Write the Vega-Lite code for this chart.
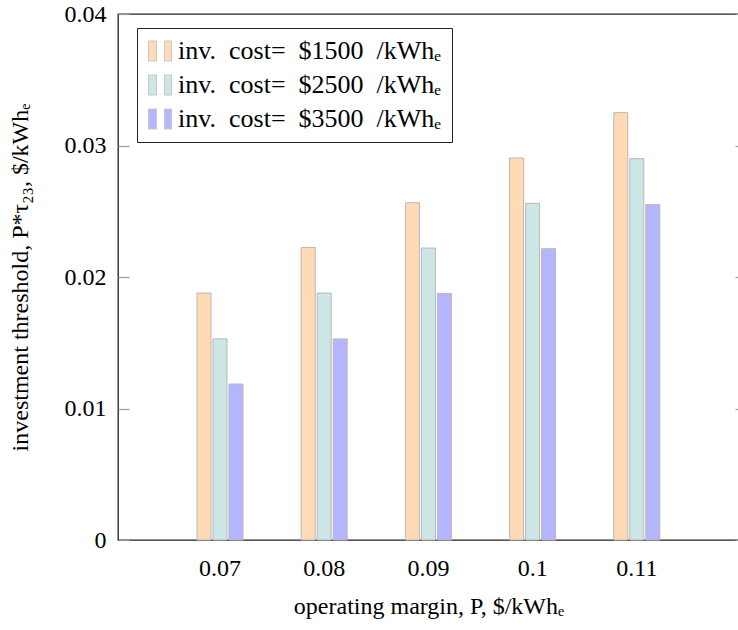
{
  "$schema": "https://vega.github.io/schema/vega-lite/v6.json",
  "autosize": "none",
  "width": 621,
  "height": 526,
  "padding": {"left": 118, "top": 14, "right": 0, "bottom": 90},
  "background": "white",
  "config": {
    "font": "Liberation Serif",
    "view": {"stroke": "#222", "strokeWidth": 1.3}
  },
  "data": {
    "values": [
      {"margin": "0.07", "cost": "inv.\u2002cost=\u2002$1500\u2002/kWhₑ", "value": 0.01878},
      {"margin": "0.07", "cost": "inv.\u2002cost=\u2002$2500\u2002/kWhₑ", "value": 0.01529},
      {"margin": "0.07", "cost": "inv.\u2002cost=\u2002$3500\u2002/kWhₑ", "value": 0.01186},
      {"margin": "0.08", "cost": "inv.\u2002cost=\u2002$1500\u2002/kWhₑ", "value": 0.02225},
      {"margin": "0.08", "cost": "inv.\u2002cost=\u2002$2500\u2002/kWhₑ", "value": 0.01878},
      {"margin": "0.08", "cost": "inv.\u2002cost=\u2002$3500\u2002/kWhₑ", "value": 0.01529},
      {"margin": "0.09", "cost": "inv.\u2002cost=\u2002$1500\u2002/kWhₑ", "value": 0.02565},
      {"margin": "0.09", "cost": "inv.\u2002cost=\u2002$2500\u2002/kWhₑ", "value": 0.02220},
      {"margin": "0.09", "cost": "inv.\u2002cost=\u2002$3500\u2002/kWhₑ", "value": 0.01875},
      {"margin": "0.1", "cost": "inv.\u2002cost=\u2002$1500\u2002/kWhₑ", "value": 0.02905},
      {"margin": "0.1", "cost": "inv.\u2002cost=\u2002$2500\u2002/kWhₑ", "value": 0.02560},
      {"margin": "0.1", "cost": "inv.\u2002cost=\u2002$3500\u2002/kWhₑ", "value": 0.02215},
      {"margin": "0.11", "cost": "inv.\u2002cost=\u2002$1500\u2002/kWhₑ", "value": 0.03250},
      {"margin": "0.11", "cost": "inv.\u2002cost=\u2002$2500\u2002/kWhₑ", "value": 0.02900},
      {"margin": "0.11", "cost": "inv.\u2002cost=\u2002$3500\u2002/kWhₑ", "value": 0.02550}
    ]
  },
  "encoding": {
    "x": {
      "field": "margin",
      "type": "ordinal",
      "scale": {"paddingInner": 0, "paddingOuter": 0.48},
      "axis": {
        "title": "operating margin, P, $/kWhₑ",
        "titleFont": "Liberation Serif",
        "titleFontSize": 24,
        "titleFontWeight": "normal",
        "titleColor": "#000",
        "titlePadding": 14,
        "labelFont": "Liberation Serif",
        "labelFontSize": 24,
        "labelColor": "#000",
        "labelAngle": 0,
        "labelPadding": 16,
        "ticks": false,
        "domain": false
      }
    }
  },
  "layer": [
    {
      "mark": {"type": "bar", "stroke": "#b8b8b8", "strokeWidth": 1},
      "encoding": {
        "xOffset": {
          "field": "cost",
          "type": "nominal",
          "scale": {"range": [29, 75], "paddingInner": 0.125, "paddingOuter": 0}
        },
        "y": {
          "field": "value",
          "type": "quantitative",
          "scale": {"domain": [0, 0.04], "nice": false},
          "axis": {
            "orient": "left",
            "offset": -11,
            "values": [0, 0.01, 0.02, 0.03, 0.04],
            "labels": false,
            "title": null,
            "ticks": true,
            "tickSize": 11,
            "tickColor": "#999",
            "tickWidth": 1.2,
            "domain": false,
            "grid": false,
            "zindex": 1
          }
        },
        "color": {
          "field": "cost",
          "type": "nominal",
          "scale": {"range": ["#ffdab5", "#cce6e6", "#b4b4ff"]},
          "legend": {
            "title": null,
            "orient": "none",
            "legendX": 19,
            "legendY": 14,
            "strokeColor": "#222",
            "fillColor": "white",
            "padding": 10,
            "rowPadding": 8,
            "symbolType": "M-1.15,-1H-0.35V1H-1.15Z M0.45,-1H1.15V1H0.45Z",
            "symbolSize": 400,
            "symbolStrokeColor": "#c8c8c8",
            "symbolStrokeWidth": 1,
            "labelFont": "Liberation Serif",
            "labelFontSize": 26,
            "labelColor": "#000",
            "labelOffset": 5,
            "labelLimit": 500
          }
        }
      }
    },
    {
      "mark": {"type": "point", "opacity": 0},
      "encoding": {
        "y": {
          "field": "value",
          "type": "quantitative",
          "axis": {
            "orient": "left",
            "values": [0, 0.01, 0.02, 0.03, 0.04],
            "format": "~g",
            "title": "investment threshold, P*τ₂₃, $/kWhₑ",
            "titleFont": "Liberation Serif",
            "titleFontSize": 24,
            "titleFontWeight": "normal",
            "titleColor": "#000",
            "titlePadding": 32,
            "labelFont": "Liberation Serif",
            "labelFontSize": 24,
            "labelColor": "#000",
            "labelPadding": 12,
            "ticks": false,
            "domain": false,
            "grid": false
          }
        }
      }
    },
    {
      "mark": {"type": "point", "opacity": 0},
      "encoding": {
        "y": {
          "field": "value",
          "type": "quantitative",
          "axis": {
            "orient": "right",
            "offset": -4,
            "values": [0, 0.01, 0.02, 0.03, 0.04],
            "labels": false,
            "title": null,
            "ticks": true,
            "tickSize": 4,
            "tickColor": "#999",
            "tickWidth": 1.2,
            "domain": false,
            "grid": false,
            "zindex": 1
          }
        }
      }
    }
  ],
  "resolve": {"axis": {"y": "independent"}}
}
